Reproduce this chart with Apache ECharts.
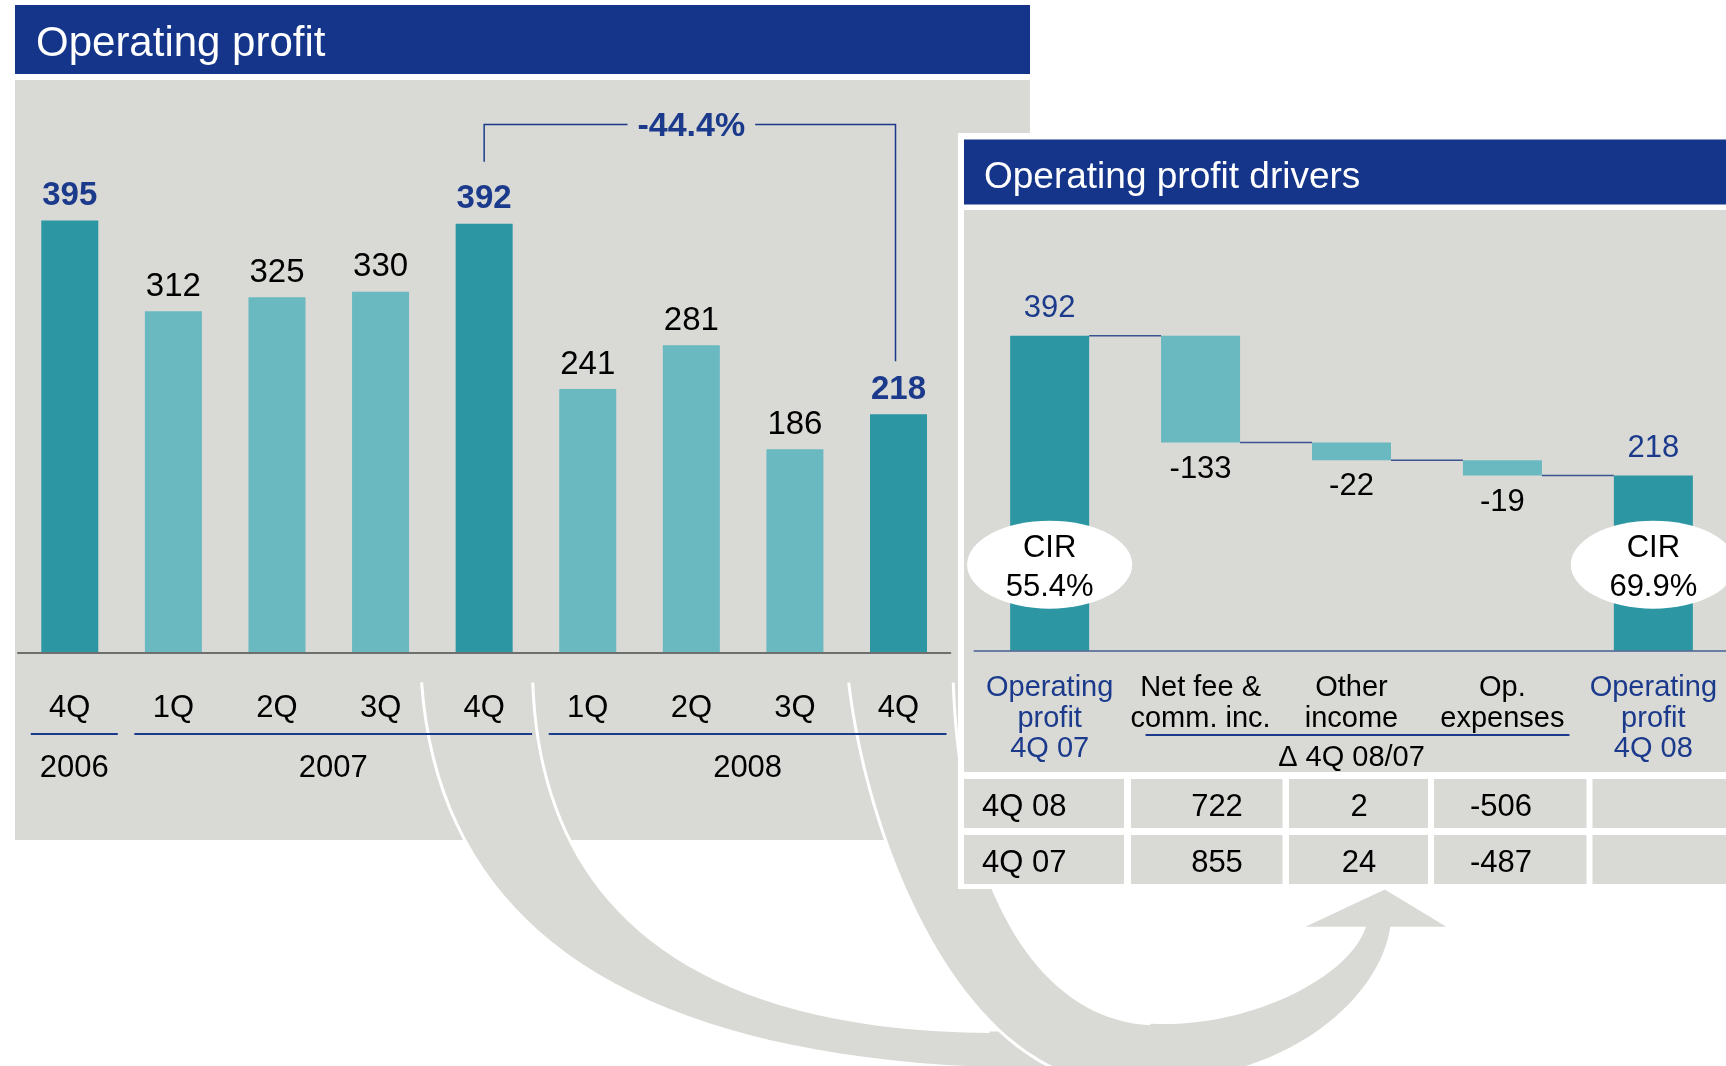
<!DOCTYPE html>
<html>
<head>
<meta charset="utf-8">
<title>Operating profit</title>
<script src="https://cdn.jsdelivr.net/npm/echarts@6/dist/echarts.min.js"></script>
<style>
  html, body { margin: 0; padding: 0; background: #fff; }
  #main { width: 1726px; height: 1066px; }
</style>
</head>
<body>
<div id="main"></div>
<script>
// 季度营业利润
const quarters = ['4Q', '1Q', '2Q', '3Q', '4Q', '1Q', '2Q', '3Q', '4Q'];
const quarterYears = ['2006', '2007', '2007', '2007', '2007', '2008', '2008', '2008', '2008'];
const profit = [395, 312, 325, 330, 392, 241, 281, 186, 218];

// 利润驱动因素（瀑布图）
const driverCats = ['Operating\nprofit\n4Q 07', 'Net fee &\ncomm. inc.', 'Other\nincome', 'Op.\nexpenses', 'Operating\nprofit\n4Q 08'];
const startProfit = 392;
const driverDeltas = [-133, -22, -19];
const endProfit = 218;
const cirStart = '55.4%';
const cirEnd = '69.9%';
const deltaCaption = 'Δ 4Q 08/07';

// 下方表格
const tableRows = ['4Q 08', '4Q 07'];
const netFee = [722, 855];
const otherIncome = [2, 24];
const opExpenses = [-506, -487];

const K = 1726 / 1568;
const FONT = '"Liberation Sans", Arial, Helvetica, sans-serif';
const NAVY = '#14358a';
const TXT_BLUE = '#1b3a8c';
const GRAY = '#d9d9d5';
const TEAL_D = '#2c96a3';
const TEAL_L = '#6ab8c0';

const catNames = quarters.map((q, i) => q + ' ' + quarterYears[i]);
const years = quarterYears.filter((y, i) => quarterYears.indexOf(y) === i);

// 瀑布图的底座和柱高
const levels = [startProfit];
driverDeltas.forEach(d => levels.push(levels[levels.length - 1] + d));
const wfBase = [0].concat(levels.slice(1), [0]);
const wfVal = [startProfit].concat(driverDeltas.map(d => -d), [endProfit]);
const lastIdx = wfVal.length - 1;

const chart = echarts.init(document.getElementById('main'), null, { renderer: 'canvas' });

const option = {
  animation: false,
  textStyle: { fontFamily: FONT },
  grid: [
    { left: 18, top: 105.5, width: 932.3, height: 547.5, outerBoundsMode: 'none' },
    { left: 974.2, top: 249, width: 754.6, height: 401.6, outerBoundsMode: 'none' }
  ],
  xAxis: [
    {
      type: 'category', gridIndex: 0, data: catNames, z: 5,
      axisTick: { show: false },
      axisLine: { lineStyle: { color: '#6e6e6e', width: 2 } },
      axisLabel: {
        interval: 0, margin: 40, fontSize: 31, color: '#000', fontFamily: FONT,
        formatter: v => v.split(' ')[0]
      }
    },
    {
      type: 'category', gridIndex: 1, data: driverCats, z: 5,
      axisTick: { show: false },
      axisLine: { lineStyle: { color: '#44608f', width: 1.5 } },
      axisLabel: {
        interval: 0, margin: 22,
        formatter: (v, i) => {
          const tag = (i === 0 || i === driverCats.length - 1) ? 'b' : 'k';
          return v.split('\n').map(l => '{' + tag + '|' + l + '}').join('\n');
        },
        rich: {
          b: { fontSize: 29, lineHeight: 30.7, color: TXT_BLUE, fontFamily: FONT },
          k: { fontSize: 29, lineHeight: 30.7, color: '#000', fontFamily: FONT }
        }
      }
    }
  ],
  yAxis: [
    { type: 'value', gridIndex: 0, min: 0, max: 500, show: false },
    { type: 'value', gridIndex: 1, min: 0, max: 500, show: false }
  ],
  series: [
    {
      type: 'bar', xAxisIndex: 0, yAxisIndex: 0, z: 4, barWidth: 57,
      data: profit.map((v, i) => {
        const hi = quarters[i] === '4Q';
        return {
          value: v,
          itemStyle: { color: hi ? TEAL_D : TEAL_L },
          label: { fontWeight: hi ? 'bold' : 'normal', color: hi ? TXT_BLUE : '#000' }
        };
      }),
      label: { show: true, position: 'top', distance: 8, fontSize: 33, fontFamily: FONT },
      emphasis: { disabled: true }
    },
    {
      type: 'bar', xAxisIndex: 1, yAxisIndex: 1, stack: 'wf', z: 4, barWidth: 79,
      data: wfBase, itemStyle: { color: 'transparent' }, silent: true
    },
    {
      type: 'bar', xAxisIndex: 1, yAxisIndex: 1, stack: 'wf', z: 4, barWidth: 79,
      data: wfVal.map((v, i) => {
        const total = i === 0 || i === lastIdx;
        return {
          value: v,
          itemStyle: { color: total ? TEAL_D : TEAL_L },
          label: { position: total ? 'top' : 'bottom', color: total ? TXT_BLUE : '#000', distance: total ? 12 : 11 }
        };
      }),
      label: {
        show: true, fontSize: 31, fontFamily: FONT,
        formatter: p => p.dataIndex === 0 ? startProfit : (p.dataIndex === lastIdx ? endProfit : driverDeltas[p.dataIndex - 1])
      },
      emphasis: { disabled: true }
    }
  ]
};
chart.setOption(option);

const px0 = (i, v) => chart.convertToPixel({ gridIndex: 0 }, [i, v]);
const px1 = (i, v) => chart.convertToPixel({ gridIndex: 1 }, [i, v]);

// 三次贝塞尔采样，用于装饰箭头
function cubic(p0, p1, p2, p3, n) {
  const pts = [];
  for (let k = 0; k <= n; k++) {
    const t = k / n, u = 1 - t;
    const a = u * u * u, b = 3 * u * u * t, c = 3 * u * t * t, d = t * t * t;
    pts.push([(a * p0[0] + b * p1[0] + c * p2[0] + d * p3[0]) * K, (a * p0[1] + b * p1[1] + c * p2[1] + d * p3[1]) * K]);
  }
  return pts;
}
const sc = p => [p[0] * K, p[1] * K];

const g = [];
// 左侧面板
g.push({ type: 'rect', z: 0, shape: { x: 15, y: 5, width: 1015, height: 69 }, style: { fill: NAVY } });
g.push({ type: 'text', z: 5, x: 36, y: 44, style: { text: 'Operating profit', fill: '#fff', fontSize: 42, fontFamily: FONT, verticalAlign: 'middle' } });
g.push({ type: 'rect', z: 0, shape: { x: 15, y: 80, width: 1015, height: 760 }, style: { fill: GRAY } });

// 弯曲箭头
const aOuter = cubic([383, 620], [400, 860], [600, 972], [960, 972], 40);
const aInner = cubic([484, 620], [490, 800], [600, 935], [899, 937], 40);
g.push({ type: 'polygon', z: 1, shape: { points: aOuter.concat([sc([960, 937])], aInner.slice().reverse()) }, style: { fill: GRAY } });
g.push({ type: 'polyline', z: 1, shape: { points: aOuter }, style: { fill: null, stroke: '#fff', lineWidth: 3 } });
g.push({ type: 'polyline', z: 1, shape: { points: aInner }, style: { fill: null, stroke: '#fff', lineWidth: 3 } });

const bOuter = cubic([771, 620], [790, 780], [880, 985], [1020, 985], 40);
const bRight = cubic([1020, 985], [1180, 985], [1255, 900], [1263, 842], 30);
const bHead = [[1314, 842], [1258, 808], [1186, 842], [1241, 842]].map(sc);
const bInnerLow = cubic([1241, 842], [1225, 890], [1130, 935], [1045, 930], 30);
const bInnerUp = cubic([1045, 930], [940, 925], [872, 800], [866, 620], 40);
g.push({ type: 'polygon', z: 1, shape: { points: bOuter.concat(bRight, bHead, bInnerLow, bInnerUp) }, style: { fill: GRAY } });
g.push({ type: 'polyline', z: 1, shape: { points: bOuter }, style: { fill: null, stroke: '#fff', lineWidth: 3 } });
g.push({ type: 'polyline', z: 1, shape: { points: bInnerUp }, style: { fill: null, stroke: '#fff', lineWidth: 3 } });

// 年份分组线
years.forEach(y => {
  const first = quarterYears.indexOf(y);
  const last = quarterYears.lastIndexOf(y);
  const xs = px0(first, 0)[0] - 39;
  const xe = px0(last, 0)[0] + 48;
  g.push({ type: 'line', z: 5, shape: { x1: xs, y1: 734, x2: xe, y2: 734 }, style: { stroke: TXT_BLUE, lineWidth: 2 } });
  g.push({ type: 'text', z: 5, x: (xs + xe) / 2, y: 768, style: { text: y, fill: '#000', fontSize: 31, fontFamily: FONT, align: 'center', verticalAlign: 'middle' } });
});

// -44.4% 括线
const iA = 4, iB = profit.length - 1;
const pA = px0(iA, profit[iA]);
const pB = px0(iB, profit[iB]);
const yBr = 124.4;
g.push({ type: 'polyline', z: 5, shape: { points: [[pA[0], pA[1] - 62], [pA[0], yBr], [pB[0] - 3, yBr], [pB[0] - 3, pB[1] - 53]] }, style: { fill: null, stroke: TXT_BLUE, lineWidth: 1.5 } });
const pct = ((profit[iB] / profit[iA] - 1) * 100).toFixed(1) + '%';
g.push({ type: 'text', z: 6, x: (pA[0] + pB[0]) / 2, y: yBr + 2, style: { text: pct, fill: TXT_BLUE, fontSize: 34, fontWeight: 'bold', fontFamily: FONT, align: 'center', verticalAlign: 'middle', backgroundColor: GRAY, padding: [2, 10] } });

// 右侧面板
g.push({ type: 'rect', z: 3, shape: { x: 958, y: 133, width: 800, height: 756 }, style: { fill: '#fff' } });
g.push({ type: 'rect', z: 3, shape: { x: 964, y: 139.5, width: 800, height: 65 }, style: { fill: NAVY } });
g.push({ type: 'text', z: 5, x: 984, y: 178, style: { text: 'Operating profit drivers', fill: '#fff', fontSize: 37, fontFamily: FONT, verticalAlign: 'middle' } });
g.push({ type: 'rect', z: 3, shape: { x: 964, y: 210, width: 800, height: 562 }, style: { fill: GRAY } });

// 瀑布连接线
const halfBar = 79 / 2;
for (let i = 0; i < levels.length; i++) {
  const a = px1(i, levels[i]);
  const b = px1(i + 1, levels[i]);
  g.push({ type: 'line', z: 5, shape: { x1: a[0] + halfBar, y1: a[1], x2: b[0] - halfBar, y2: b[1] }, style: { stroke: '#3b5591', lineWidth: 1.5 } });
}

// CIR 椭圆
[[0, cirStart], [lastIdx, cirEnd]].forEach(([i, txt]) => {
  const cx = px1(i, 0)[0];
  g.push({ type: 'circle', z: 6, x: cx, y: 564.7, scaleX: 1.877, shape: { cx: 0, cy: 0, r: 44 }, style: { fill: '#fff' } });
  g.push({ type: 'text', z: 7, x: cx, y: 568, style: { text: 'CIR\n' + txt, fill: '#000', fontSize: 31, lineHeight: 38.5, fontFamily: FONT, align: 'center', verticalAlign: 'middle' } });
});

// Δ 标注
const dx1 = px1(1, 0)[0] - 55;
const dx3 = px1(3, 0)[0] + 67;
g.push({ type: 'line', z: 5, shape: { x1: dx1, y1: 735, x2: dx3, y2: 735 }, style: { stroke: TXT_BLUE, lineWidth: 2 } });
g.push({ type: 'text', z: 5, x: px1(2, 0)[0], y: 758, style: { text: deltaCaption, fill: '#000', fontSize: 29, fontFamily: FONT, align: 'center', verticalAlign: 'middle' } });

// 表格
const colX = [[964, 1124], [1131, 1282.5], [1289, 1428], [1434, 1586.5], [1592.5, 1730]];
const textX = [982, 1217, 1359, 1501];
const rowY = [[779, 828], [835, 884]];
tableRows.forEach((name, r) => {
  const cells = [name, netFee[r], otherIncome[r], opExpenses[r]];
  const midY = (rowY[r][0] + rowY[r][1]) / 2 + 4;
  colX.forEach((c, k) => {
    g.push({ type: 'rect', z: 3, shape: { x: c[0], y: rowY[r][0], width: c[1] - c[0], height: rowY[r][1] - rowY[r][0] }, style: { fill: GRAY } });
    if (k < cells.length) {
      g.push({ type: 'text', z: 5, x: textX[k], y: midY, style: { text: String(cells[k]), fill: '#000', fontSize: 31, fontFamily: FONT, align: k === 0 ? 'left' : 'center', verticalAlign: 'middle' } });
    }
  });
});

chart.setOption({ graphic: g });
</script>
</body>
</html>
